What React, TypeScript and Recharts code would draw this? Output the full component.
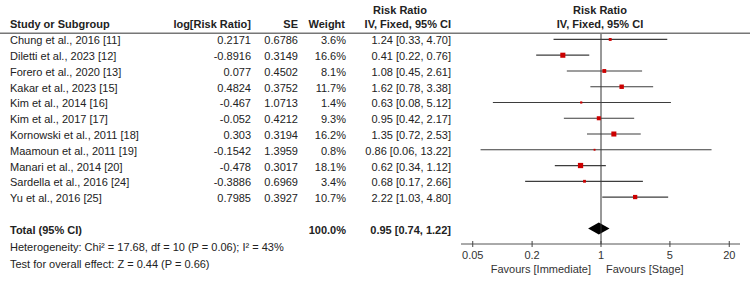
import React from "react";
import {
  ComposedChart,
  Scatter,
  XAxis,
  YAxis,
  ReferenceLine,
  ReferenceArea,
} from "recharts";

const studies = [
  "Chung et al., 2016 [11]",
  "Diletti et al., 2023 [12]",
  "Forero et al., 2020 [13]",
  "Kakar et al., 2023 [15]",
  "Kim et al., 2014 [16]",
  "Kim et al., 2017 [17]",
  "Kornowski et al., 2011 [18]",
  "Maamoun et al., 2011 [19]",
  "Manari et al., 2014 [20]",
  "Sardella et al., 2016 [24]",
  "Yu et al., 2016 [25]",
];
const logRR = [0.2171, -0.8916, 0.077, 0.4824, -0.467, -0.052, 0.303, -0.1542, -0.478, -0.3886, 0.7985];
const se = [0.6786, 0.3149, 0.4502, 0.3752, 1.0713, 0.4212, 0.3194, 1.3959, 0.3017, 0.6969, 0.3927];
const weights = [3.6, 16.6, 8.1, 11.7, 1.4, 9.3, 16.2, 0.8, 18.1, 3.4, 10.7];
const riskRatio = [1.24, 0.41, 1.08, 1.62, 0.63, 0.95, 1.35, 0.86, 0.62, 0.68, 2.22];
const ciLow = [0.33, 0.22, 0.45, 0.78, 0.08, 0.42, 0.72, 0.06, 0.34, 0.17, 1.03];
const ciHigh = [4.7, 0.76, 2.61, 3.38, 5.12, 2.17, 2.53, 13.22, 1.12, 2.66, 4.8];

const totalRow = 12;
const totalRR = 0.95;
const totalLow = 0.74;
const totalHigh = 1.22;
const totalWeight = 100.0;

const xTicks = [0.05, 0.2, 1, 5, 20];

const FONT = '"Liberation Sans", Arial, sans-serif';
const INK = "#222";

const rows = studies.map((name, i) => ({
  name,
  row: i,
  logRR: logRR[i],
  se: se[i],
  weight: weights[i],
  rr: riskRatio[i],
  lo: ciLow[i],
  hi: ciHigh[i],
}));

const ciText = (rr: number, lo: number, hi: number) =>
  `${rr.toFixed(2)} [${lo.toFixed(2)}, ${hi.toFixed(2)}]`;

// table text rides on the y-axis ticks so it lines up with the plot rows
const RowTick = (props: any) => {
  const { y, payload } = props;
  const by = y + 5;
  if (payload.value === totalRow) {
    return (
      <g fontFamily={FONT} fontSize={11} fontWeight="bold" fill={INK}>
        <text x={10} y={by}>Total (95% CI)</text>
        <text x={346} y={by} textAnchor="end">{totalWeight.toFixed(1)}%</text>
        <text x={451} y={by} textAnchor="end">{ciText(totalRR, totalLow, totalHigh)}</text>
      </g>
    );
  }
  const d = rows.find((r) => r.row === payload.value);
  if (!d) return null;
  return (
    <g fontFamily={FONT} fontSize={11} fill={INK}>
      <text x={10} y={by}>{d.name}</text>
      <text x={251} y={by} textAnchor="end">{String(d.logRR)}</text>
      <text x={298} y={by} textAnchor="end">{String(d.se)}</text>
      <text x={346} y={by} textAnchor="end">{d.weight.toFixed(1)}%</text>
      <text x={451} y={by} textAnchor="end">{ciText(d.rr, d.lo, d.hi)}</text>
    </g>
  );
};

const AxisTick = (props: any) => {
  const { x, y, payload } = props;
  return (
    <g>
      <line x1={x} x2={x} y1={y - 3} y2={y + 3} stroke="#444" />
      <text x={x} y={y + 15} textAnchor="middle" fontFamily={FONT} fontSize={11} fill="#333">
        {payload.value}
      </text>
    </g>
  );
};

const StudySquare = (props: any) => {
  const { cx, cy, payload } = props;
  const s = 1 + Math.sqrt(payload.weight);
  return <rect x={cx - s / 2} y={cy - s / 2} width={s} height={s} fill="#cc0000" />;
};

const Diamond = (props: any) => {
  const { x, y, width, height } = props;
  const mx = x + width / 2;
  const my = y + height / 2;
  return (
    <polygon
      points={`${x},${my} ${mx},${y} ${x + width},${my} ${mx},${y + height}`}
      fill="#000"
    />
  );
};

export default function App() {
  return (
    <div style={{ position: "absolute", left: 0, top: 0, width: 750, height: 284, background: "#fff" }}>
      <ComposedChart
        width={750}
        height={284}
        data={rows}
        margin={{ top: 33, right: 10, bottom: 0, left: 0 }}
      >
        <XAxis
          type="number"
          dataKey="rr"
          scale="log"
          domain={[0.038, 25.7]}
          allowDataOverflow
          ticks={xTicks}
          interval={0}
          height={40}
          tickSize={0}
          tickMargin={0}
          tickLine={false}
          axisLine={{ stroke: "#555" }}
          tick={<AxisTick />}
        />
        <YAxis
          type="number"
          dataKey="row"
          domain={[-0.41, 12.98]}
          allowDataOverflow
          reversed
          ticks={[...rows.map((r) => r.row), totalRow]}
          interval={0}
          width={461}
          tickSize={0}
          tickMargin={0}
          axisLine={false}
          tickLine={false}
          tick={<RowTick />}
        />
        <ReferenceLine x={1} stroke="#333" />
        {rows.map((d) => (
          <ReferenceLine
            key={d.name}
            segment={[
              { x: d.lo, y: d.row },
              { x: d.hi, y: d.row },
            ]}
            stroke="#3d3d3d"
            strokeWidth={1.2}
          />
        ))}
        <ReferenceArea
          x1={totalLow}
          x2={totalHigh}
          y1={totalRow - 0.38}
          y2={totalRow + 0.38}
          shape={<Diamond />}
        />
        <Scatter
          data={rows}
          dataKey="rr"
          shape={<StudySquare />}
          isAnimationActive={false}
        />
      </ComposedChart>
      <svg
        width={750}
        height={284}
        style={{ position: "absolute", left: 0, top: 0, pointerEvents: "none" }}
        fontFamily={FONT}
        fontSize={11}
        fill={INK}
      >
        <line x1={0} x2={750} y1={33.3} y2={33.3} stroke="#777" strokeWidth={1.6} />
        <g fontWeight="bold">
          <text x={10} y={28}>Study or Subgroup</text>
          <text x={251} y={28} textAnchor="end">log[Risk Ratio]</text>
          <text x={298} y={28} textAnchor="end">SE</text>
          <text x={345} y={28} textAnchor="end">Weight</text>
          <text x={400} y={13.5} textAnchor="middle">Risk Ratio</text>
          <text x={451} y={28} textAnchor="end">IV, Fixed, 95% CI</text>
          <text x={600} y={13.5} textAnchor="middle">Risk Ratio</text>
          <text x={600} y={28} textAnchor="middle">IV, Fixed, 95% CI</text>
        </g>
        <text x={10} y={251}>Heterogeneity: Chi² = 17.68, df = 10 (P = 0.06); I² = 43%</text>
        <text x={10} y={268}>Test for overall effect: Z = 0.44 (P = 0.66)</text>
        <text x={591} y={272.5} textAnchor="end" fill="#333">Favours [Immediate]</text>
        <text x={606} y={272.5} fill="#333">Favours [Stage]</text>
      </svg>
    </div>
  );
}
